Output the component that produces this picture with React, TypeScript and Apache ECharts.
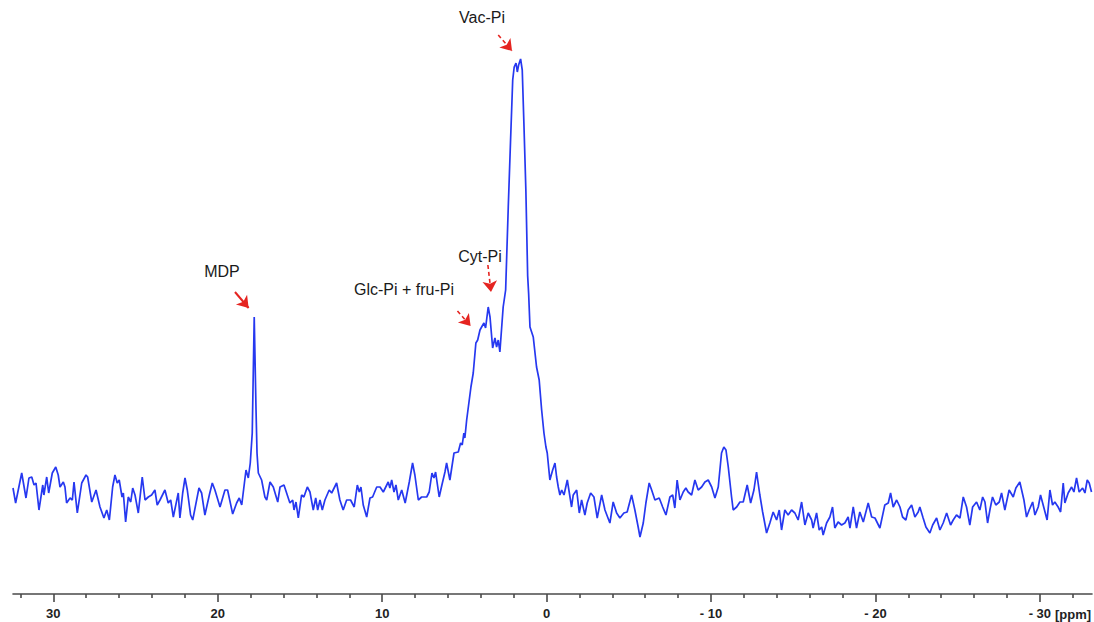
import React, { useEffect, useRef } from "react";
import * as echarts from "echarts";

// 31P NMR spectrum, [chemical shift (ppm), intensity (a.u.)]
const leftBaseline: [number, number][] = [
  [32.45,106],[32.29,91],[31.92,121],[31.66,96],[31.48,116],[31.31,117],[31.17,109],[31.05,111],[30.87,84],[30.64,109],
  [30.57,99],[30.40,117],[30.28,101],[30.06,121],[29.85,127],[29.70,119],[29.59,107],[29.39,112],[29.29,107],[29.19,91],
  [28.98,96],[28.84,94],[28.74,112],[28.54,81],[28.27,111],[28.01,119],[27.91,117],[27.66,92],[27.40,104],[27.16,87],
  [26.92,76],[26.75,84],[26.59,74],[26.39,107],[26.25,119],[26.11,111],[25.99,114],[25.82,97],[25.74,101],[25.60,72],
  [25.44,97],[25.29,92],[25.17,106],[25.03,99],[24.83,81],[24.59,117],[24.42,94],[24.22,97],[24.02,99],[23.82,104],
  [23.68,89],[23.51,94],[23.21,104],[23.01,91],[22.86,94],[22.70,77],[22.40,101],[22.30,76],[22.13,101],[21.99,116],
  [21.85,104],[21.65,79],[21.52,74],[21.14,106],[20.98,101],[20.78,79],[20.51,99],[20.33,111],[20.17,104],[19.86,87],
  [19.56,104],[19.40,104],[19.09,80],[18.85,91],[18.69,96],[18.54,89],[18.28,124],[18.14,116]
];

const mdpPeak: [number, number][] = [
  [18.02,131],[17.90,161],[17.78,277],[17.67,184],[17.61,141],[17.53,121],[17.33,114],[17.13,97],[17.02,94],[16.82,112],
  [16.62,107],[16.35,92],[16.21,107],[15.97,109]
];

const midBaseline: [number, number][] = [
  [15.61,91],[15.44,94],[15.36,84],[15.24,92],[15.10,76],[14.90,99],[14.76,97],[14.55,107],[14.39,102],[14.19,84],
  [14.04,96],[13.92,84],[13.78,94],[13.64,84],[13.48,94],[13.22,104],[13.07,101],[12.77,111],[12.57,94],[12.37,84],
  [12.16,94],[11.92,94],[11.70,87],[11.51,109],[11.39,102],[11.29,107],[11.15,89],[10.94,77],[10.74,96],[10.58,97],
  [10.33,107],[10.13,107],[9.93,102],[9.63,112],[9.53,106],[9.42,114],[9.28,102],[9.16,109],[9.02,94],[8.81,104],
  [8.60,91],[8.35,112],[8.15,131],[8.01,119],[7.80,94],[7.60,97],[7.29,97],[7.14,102],[6.97,121],[6.85,116],
  [6.75,122],[6.53,97],[6.38,108],[6.18,122],[6.08,131],[5.88,114],[5.63,141],[5.37,142],[5.23,151],[5.13,149],
  [5.03,161],[4.97,156],[4.86,174]
];

const mainPeak: [number, number][] = [
  [4.60,207],[4.46,221],[4.30,251],[4.19,254],[4.05,264],[3.95,267],[3.81,271],[3.71,266],[3.55,287],[3.44,277],
  [3.28,246],[3.14,256],[3.04,247],[2.94,254],[2.84,242],[2.64,287],[2.49,304],[2.33,387],[2.19,454],[2.06,514],
  [1.97,527],[1.86,531],[1.78,522],[1.70,529],[1.58,535],[1.48,524],[1.38,471],[1.26,404],[1.15,318],[1.09,300],
  [1.01,267],[0.81,257],[0.61,227],[0.45,214],[0.30,184],[0.16,161],[0.04,147],[-0.04,141],[-0.20,114],[-0.37,124],
  [-0.51,131],[-0.61,117],[-0.71,107],[-0.81,99],[-0.92,104],[-1.06,99]
];

const rightBaselineA: [number, number][] = [
  [-1.26,114],[-1.52,87],[-1.62,99],[-1.83,104],[-1.99,81],[-2.13,94],[-2.33,79],[-2.47,91],[-2.68,101],[-2.88,97],
  [-3.08,76],[-3.35,99],[-3.55,84],[-3.85,71],[-4.05,92],[-4.26,81],[-4.46,76],[-4.70,81],[-4.90,82],[-5.17,99],
  [-5.37,84],[-5.57,67],[-5.68,57],[-5.88,71],[-6.04,91],[-6.24,111],[-6.39,104],[-6.59,94],[-6.85,96],[-7.06,87],
  [-7.26,79],[-7.50,97],[-7.67,99],[-7.80,86],[-7.94,114],[-8.11,94],[-8.31,102],[-8.47,106],[-8.61,102],[-8.82,99],
  [-9.02,114],[-9.22,104],[-9.43,107],[-9.63,112],[-9.83,114],[-10.04,107],[-10.24,96],[-10.44,107],[-10.64,141],[-10.78,147],
  [-10.91,144],[-11.05,127],[-11.25,97],[-11.35,84],[-11.56,87],[-11.76,92],[-11.96,92],[-12.20,109],[-12.41,91],[-12.61,104],
  [-12.77,122],[-12.97,99],[-13.14,82],[-13.38,61],[-13.58,71],[-13.78,82],[-13.99,74],[-14.15,84],[-14.29,64],[-14.49,84],
  [-14.69,79],[-14.90,84],[-15.10,81],[-15.30,74],[-15.51,92]
];

const rightBaselineB: [number, number][] = [
  [-15.71,69],[-15.91,81],[-16.12,74],[-16.21,66],[-16.42,81],[-16.58,64],[-16.73,67],[-16.82,59],[-17.03,71],[-17.23,77],
  [-17.39,87],[-17.53,66],[-17.73,72],[-17.94,69],[-18.14,71],[-18.34,77],[-18.45,66],[-18.65,87],[-18.85,66],[-19.05,82],
  [-19.26,72],[-19.56,91],[-19.77,77],[-19.97,76],[-20.27,66],[-20.57,89],[-20.78,91],[-20.92,101],[-21.08,87],[-21.29,94],
  [-21.49,87],[-21.65,77],[-21.85,74],[-21.99,84],[-22.20,89],[-22.40,77],[-22.60,82],[-22.70,87],[-22.90,76],[-23.07,67],
  [-23.31,61],[-23.48,69],[-23.72,76],[-23.92,64],[-24.12,71],[-24.33,81],[-24.57,69],[-24.73,74],[-24.93,79],[-25.14,76],
  [-25.34,97],[-25.54,87],[-25.74,69],[-25.91,87],[-26.15,92],[-26.35,84],[-26.52,97],[-26.66,92],[-26.82,71],[-26.96,84],
  [-27.12,97],[-27.32,89],[-27.53,92],[-27.67,101],[-27.87,84],[-28.13,104],[-28.38,97],[-28.54,106],[-28.78,112],[-29.03,94],
  [-29.19,77],[-29.35,84],[-29.56,92],[-29.70,79],[-29.90,87],[-30.04,99],[-30.20,89],[-30.44,74],[-30.61,104],[-30.77,89],
  [-30.91,92],[-31.11,87],[-31.26,82],[-31.42,111],[-31.52,91],[-31.72,101],[-31.93,107],[-32.07,102],[-32.23,116],[-32.39,102],
  [-32.60,106],[-32.74,101],[-32.88,114],[-33.00,111],[-33.14,102]
];

const ppmMax = 32.45;
const ppmMin = -33.17;
const majorTicks = [30, 20, 10, 0, -10, -20, -30];
const minorTicks = [32, 28, 26, 24, 22, 18, 16, 14, 12, 8, 6, 4, 2, -2, -4, -6, -8, -12, -14, -16, -18, -22, -24, -26, -28, -32];

// arrows: [from ppm, from intensity], [to ppm, to intensity], dashed
const arrowFrom: [number, number][] = [[18.95, 302], [5.42, 283], [3.57, 329], [2.94, 559]];
const arrowTo: [number, number][] = [[18.12, 286], [4.62, 268], [3.38, 302], [2.10, 543]];
const arrowDashed = [false, true, true, true];

const labelTexts = ["Vac-Pi", "MDP", "Glc-Pi + fru-Pi", "Cyt-Pi"];

export default function App() {
  const ref = useRef<HTMLDivElement>(null);
  useEffect(() => {
    if (!ref.current) return;
    const chart = echarts.init(ref.current, undefined, { renderer: "svg" });
    const data = [
      ...leftBaseline, ...mdpPeak, ...midBaseline, ...mainPeak, ...rightBaselineA, ...rightBaselineB,
    ];
    const red = "#e52420";
    const markData = arrowFrom.map((f, i) => [
      {
        coord: f,
        lineStyle: {
          color: red,
          width: arrowDashed[i] ? 1.6 : 2,
          type: arrowDashed[i] ? [4, 3] : "solid",
        },
      },
      { coord: arrowTo[i] },
    ]);
    const textStyle = {
      fontFamily: "Liberation Sans, Arial, sans-serif",
      fontSize: 16,
      fill: "#1a1a1a",
      align: "center",
      verticalAlign: "middle",
    };
    const labelPos: [number, number][] = [[482, 17], [222, 271], [404, 289], [480, 256]];
    chart.setOption({
      animation: false,
      backgroundColor: "#ffffff",
      grid: { left: 13, right: 2, top: 0, bottom: 28, containLabel: false },
      xAxis: [
        {
          type: "value",
          inverse: true,
          min: ppmMin,
          max: ppmMax,
          position: "bottom",
          splitLine: { show: false },
          axisLine: { show: true, lineStyle: { color: "#4a4a4a", width: 1.6 } },
          axisTick: {
            show: true,
            customValues: majorTicks,
            length: 8,
            lineStyle: { color: "#4a4a4a", width: 1.6 },
          },
          axisLabel: {
            show: true,
            customValues: majorTicks,
            margin: 13,
            fontFamily: "Liberation Sans, Arial, sans-serif",
            fontWeight: "bold",
            fontSize: 13,
            color: "#222222",
            formatter: (v: number) => (v < 0 ? "- " + Math.abs(v) : String(v)),
          },
        },
        {
          type: "value",
          inverse: true,
          min: ppmMin,
          max: ppmMax,
          position: "bottom",
          offset: 0,
          splitLine: { show: false },
          axisLine: { show: false },
          axisTick: {
            show: true,
            customValues: minorTicks,
            length: 4,
            lineStyle: { color: "#4a4a4a", width: 1.6 },
          },
          axisLabel: { show: false },
        },
      ],
      yAxis: { type: "value", min: 0, max: 594, show: false },
      series: [
        {
          type: "line",
          xAxisIndex: 0,
          data,
          showSymbol: false,
          symbol: "none",
          lineStyle: { color: "#2638f0", width: 1.7 },
          silent: true,
          markLine: {
            silent: true,
            symbol: ["none", "arrow"],
            symbolSize: 11,
            label: { show: false },
            emphasis: { disabled: true },
            data: markData,
          },
        },
      ],
      graphic: [
        ...labelTexts.map((t, i) => ({
          type: "text",
          x: labelPos[i][0],
          y: labelPos[i][1],
          style: { ...textStyle, text: t },
        })),
        {
          type: "text",
          x: 1055,
          y: 614,
          style: {
            text: "[ppm]",
            fontFamily: "Liberation Sans, Arial, sans-serif",
            fontWeight: "bold",
            fontSize: 13,
            fill: "#222222",
            align: "left",
            verticalAlign: "middle",
          },
        },
      ],
    });
    return () => chart.dispose();
  }, []);
  return (
    <div
      ref={ref}
      style={{ position: "absolute", left: 0, top: 0, width: 1094, height: 622, background: "#fff" }}
    />
  );
}
